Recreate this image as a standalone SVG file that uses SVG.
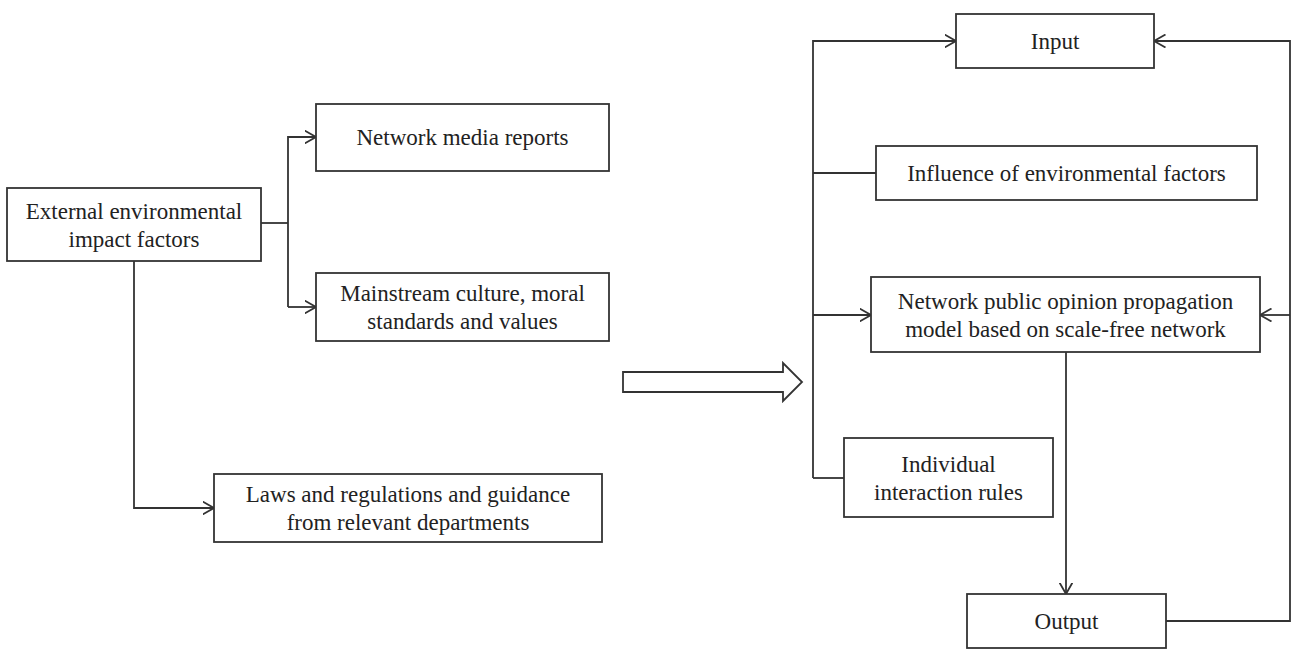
<svg xmlns="http://www.w3.org/2000/svg" width="1291" height="649" viewBox="0 0 1291 649">
<style>
.box{fill:#fff;stroke:#333;stroke-width:1.8}
.t{font-family:'Liberation Serif','Times New Roman',Tinos,Times,'DejaVu Serif',serif;font-size:23px;fill:#222;text-anchor:middle}
.c{fill:none;stroke:#333;stroke-width:1.8}
</style>
<defs>
<marker id="ah" viewBox="0 0 12 14" refX="11.5" refY="7" markerWidth="12" markerHeight="14" markerUnits="userSpaceOnUse" orient="auto">
<path d="M0,0.5 L11.5,7 L0,13.5" fill="none" stroke="#333" stroke-width="1.8"/>
</marker>
</defs>
<rect width="1291" height="649" fill="#fff"/>
<g id="connectors">
<path class="c" d="M261,223 H288"/>
<path class="c" d="M288,307 V137 H316" marker-end="url(#ah)"/>
<path class="c" d="M288,307 H316" marker-end="url(#ah)"/>
<path class="c" d="M134,261 V508 H214" marker-end="url(#ah)"/>
<polygon points="623,372 783,372 783,363 802,382 783,401 783,392 623,392" fill="#fff" stroke="#333" stroke-width="1.8"/>
<path class="c" d="M813,478 V41 H956" marker-end="url(#ah)"/>
<path class="c" d="M813,173 H876"/>
<path class="c" d="M813,315 H871" marker-end="url(#ah)"/>
<path class="c" d="M813,478 H844"/>
<path class="c" d="M1066,352 V594" marker-end="url(#ah)"/>
<path class="c" d="M1166,621 H1290 V41 H1154" marker-end="url(#ah)"/>
<path class="c" d="M1290,315 H1260" marker-end="url(#ah)"/>
</g>
<g id="external">
<rect class="box" x="7" y="188" width="254" height="73"/>
<text class="t" x="134" y="218.5">External environmental</text>
<text class="t" x="134" y="246.5">impact factors</text>
</g>
<g id="media">
<rect class="box" x="316" y="104" width="293" height="67"/>
<text class="t" x="462.5" y="145">Network media reports</text>
</g>
<g id="culture">
<rect class="box" x="316" y="273" width="293" height="68"/>
<text class="t" x="462.5" y="301">Mainstream culture, moral</text>
<text class="t" x="462.5" y="329">standards and values</text>
</g>
<g id="laws">
<rect class="box" x="214" y="474" width="388" height="68"/>
<text class="t" x="408" y="502">Laws and regulations and guidance</text>
<text class="t" x="408" y="530">from relevant departments</text>
</g>
<g id="input">
<rect class="box" x="956" y="14" width="198" height="54"/>
<text class="t" x="1055" y="49">Input</text>
</g>
<g id="influence">
<rect class="box" x="876" y="146" width="381" height="54"/>
<text class="t" x="1066.5" y="181">Influence of environmental factors</text>
</g>
<g id="model">
<rect class="box" x="871" y="277" width="389" height="75"/>
<text class="t" x="1065.5" y="308.5">Network public opinion propagation</text>
<text class="t" x="1065.5" y="336.5">model based on scale-free network</text>
</g>
<g id="individual">
<rect class="box" x="844" y="438" width="209" height="79"/>
<text class="t" x="948.5" y="471.5">Individual</text>
<text class="t" x="948.5" y="499.5">interaction rules</text>
</g>
<g id="output">
<rect class="box" x="967" y="594" width="199" height="54"/>
<text class="t" x="1066.5" y="629">Output</text>
</g>
</svg>
